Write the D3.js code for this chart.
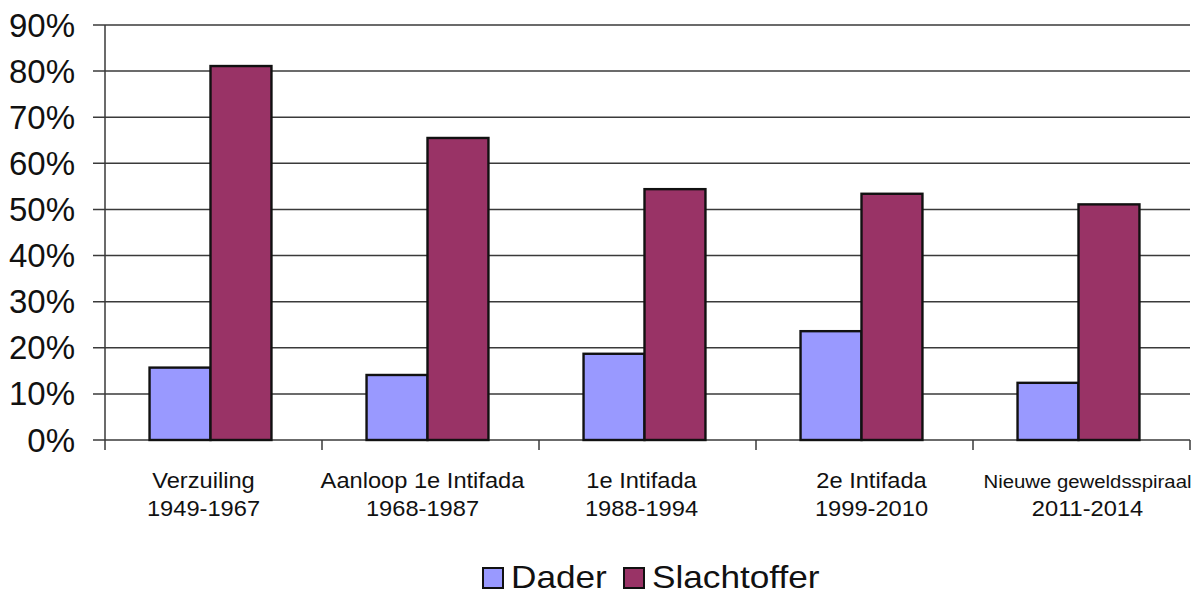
<!DOCTYPE html>
<html>
<head>
<meta charset="utf-8">
<script src="https://cdn.jsdelivr.net/npm/d3@7"></script>
<style>
html,body{margin:0;padding:0;background:#fff;}
svg{display:block;}
text{font-family:Arial,"Liberation Sans",sans-serif;fill:#111;}
</style>
</head>
<body>
<svg id="chart" width="1202" height="594"></svg>
<script>
const categories = ["Verzuiling|1949-1967","Aanloop 1e Intifada|1968-1987","1e Intifada|1988-1994","2e Intifada|1999-2010","Nieuwe geweldsspiraal|2011-2014"];
const seriesNames = ["Dader","Slachtoffer"];
const dader = [15.7, 14.1, 18.7, 23.6, 12.4];
const slachtoffer = [81.1, 65.5, 54.4, 53.4, 51.1];
const yTicks = [0,10,20,30,40,50,60,70,80,90];
const colors = ["#9999FF","#993366"];

const svg = d3.select("#chart");
const plotLeft = 105, plotRight = 1190, plotTop = 25, plotBottom = 440;

const x0 = d3.scaleBand().domain(categories).range([plotLeft, plotRight]).padding(0);
const x1 = d3.scaleBand().domain(seriesNames).range([0, x0.bandwidth()]).paddingInner(0).paddingOuter(0.78);
const y = d3.scaleLinear().domain([0, 90]).range([plotBottom, plotTop]);
const color = d3.scaleOrdinal().domain(seriesNames).range(colors);

// gridlines
svg.append("g").selectAll("line").data(yTicks).join("line")
  .attr("x1", plotLeft - 12).attr("x2", plotRight)
  .attr("y1", d => y(d)).attr("y2", d => y(d))
  .attr("stroke", "#3a3a3a").attr("stroke-width", 1.5);

// y labels
svg.append("g").selectAll("text").data(yTicks).join("text")
  .attr("x", 75).attr("y", d => y(d)).attr("dy", "0.35em")
  .attr("text-anchor", "end").attr("font-size", 33)
  .text(d => d + "%");

// y axis line
svg.append("line").attr("x1", plotLeft).attr("x2", plotLeft).attr("y1", plotTop).attr("y2", plotBottom + 10)
  .attr("stroke", "#3a3a3a").attr("stroke-width", 1.5);

// x ticks at band boundaries
const bounds = categories.map(c => x0(c)).concat([plotRight]);
svg.append("g").selectAll("line").data(bounds.slice(1)).join("line")
  .attr("x1", d => d).attr("x2", d => d).attr("y1", plotBottom).attr("y2", plotBottom + 10)
  .attr("stroke", "#3a3a3a").attr("stroke-width", 1.5);

// bars
const data = categories.map((c, i) => ({c, vals: [
  {s: "Dader", v: dader[i]}, {s: "Slachtoffer", v: slachtoffer[i]}]}));
const groups = svg.append("g").selectAll("g").data(data).join("g")
  .attr("transform", d => `translate(${x0(d.c) - 3},0)`);
groups.selectAll("rect").data(d => d.vals).join("rect")
  .attr("x", d => x1(d.s)).attr("width", x1.bandwidth())
  .attr("y", d => y(d.v)).attr("height", d => y(0) - y(d.v))
  .attr("fill", d => color(d.s)).attr("stroke", "#111").attr("stroke-width", 2.4);

// x labels
const offsets = [-10, -8, -6, 7, 6];
const lab = svg.append("g").selectAll("g").data(categories).join("g")
  .attr("transform", (d, i) => `translate(${x0(d) + x0.bandwidth() / 2 + offsets[i]},0)`);
lab.each(function(d, i) {
  const parts = d.split("|");
  const g = d3.select(this);
  g.append("text").attr("transform", "translate(0,488) scale(1.1,1)")
    .attr("text-anchor", "middle").attr("font-size", i === 4 ? 18.5 : 21.5).text(parts[0]);
  g.append("text").attr("transform", "translate(0,516) scale(1.1,1)")
    .attr("text-anchor", "middle").attr("font-size", 21.5).text(parts[1]);
});

// legend
const legendX = [483, 624];
const leg = svg.append("g").selectAll("g").data(seriesNames).join("g")
  .attr("transform", (d, i) => `translate(${legendX[i]},568)`);
leg.append("rect").attr("width", 20).attr("height", 20)
  .attr("fill", d => color(d)).attr("stroke", "#111").attr("stroke-width", 2);
leg.append("text").attr("transform", "translate(28,20) scale(1.1,1)")
  .attr("font-size", 32).text(d => d);
</script>
</body>
</html>
